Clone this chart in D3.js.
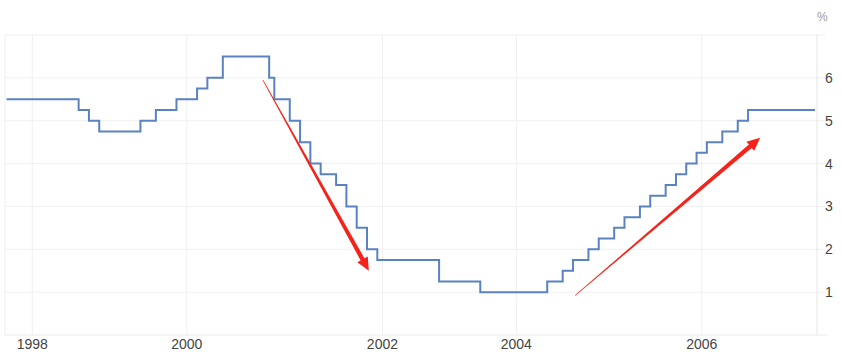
<html>
<head>
<script src="https://d3js.org/d3.v7.min.js"></script>
<style>
  body { margin: 0; background: #fff; }
  text { font-family: "Liberation Sans", Arial, sans-serif; }
</style>
</head>
<body>
<div id="chart"></div>
<script>
// rate decisions: date the new rate took effect, and the rate (%)
const changeDates = [
  "1997-08-01",
  "1998-09-29", "1998-10-15", "1998-11-17",
  "1999-06-30", "1999-08-24", "1999-11-16",
  "2000-02-02", "2000-03-21", "2000-05-16",
  "2001-01-03", "2001-01-31", "2001-03-20", "2001-04-18", "2001-05-15", "2001-06-27",
  "2001-08-21", "2001-09-17", "2001-10-02", "2001-11-06", "2001-12-11",
  "2002-11-06",
  "2003-06-25",
  "2004-06-30", "2004-08-10", "2004-09-21", "2004-11-10", "2004-12-14",
  "2005-02-02", "2005-03-22", "2005-05-03", "2005-06-30", "2005-08-09", "2005-09-20",
  "2005-11-01", "2005-12-13",
  "2006-01-31", "2006-03-28", "2006-05-10", "2006-06-29"
];
const changeRates = [
  5.5,
  5.25, 5.0, 4.75,
  5.0, 5.25, 5.5,
  5.75, 6.0, 6.5,
  6.0, 5.5, 5.0, 4.5, 4.0, 3.75,
  3.5, 3.0, 2.5, 2.0, 1.75,
  1.25,
  1.0,
  1.25, 1.5, 1.75, 2.0, 2.25,
  2.5, 2.75, 3.0, 3.25, 3.5, 3.75,
  4.0, 4.25,
  4.5, 4.75, 5.0, 5.25
];
const seriesEnd = "2007-07-01";

const yearTicks = [1998, 2000, 2002, 2004, 2006];
const rateTicks = [1, 2, 3, 4, 5, 6];

// red trend arrows [from, to]
const arrowDates = [["2000-12-25", "2001-11-15"], ["2004-09-25", "2006-08-12"]];
const arrowRates = [[5.95, 1.5], [0.92, 4.6]];

const w = 841, h = 360;
const plotLeft = 5, plotRight = 817, plotTop = 35, plotBottom = 335;

const parse = d3.timeParse("%Y-%m-%d");
const events = changeDates.map((d, i) => ({ date: parse(d), rate: changeRates[i] }));
const endDate = parse(seriesEnd);

// monthly observations plus decision dates -> the chart spaces points by observation
const months = d3.timeMonth.range(events[0].date, d3.timeMonth.offset(endDate, 1));
const allDates = Array.from(new Set(months.concat(events.map(e => e.date)).map(d => +d)))
  .sort((a, b) => a - b).map(d => new Date(d));
const rateAt = date => {
  let r = events[0].rate;
  events.forEach(e => { if (e.date <= date) r = e.rate; });
  return r;
};
const obs = allDates.map((d, i) => ({ i: i, date: d, rate: rateAt(d) }));

const xScale = d3.scaleLinear().domain([-0.3, obs.length - 1]).range([plotLeft, 815]);
const yScale = d3.scaleLinear().domain([0, 7]).range([plotBottom, plotTop]);

// fractional observation index for any date
const indexOf = date => {
  const t = +date;
  const j = d3.bisector(o => +o.date).right(obs, t) - 1;
  if (j < 0) return 0;
  if (j >= obs.length - 1) return obs.length - 1;
  const a = obs[j], b = obs[j + 1];
  return j + (t - a.date) / (b.date - a.date);
};
const xDate = d => xScale(indexOf(d));

const svg = d3.select("#chart").append("svg").attr("width", w).attr("height", h);

// grid
svg.append("g").selectAll("line").data(rateTicks.concat([7])).enter().append("line")
  .attr("x1", plotLeft).attr("x2", 825)
  .attr("y1", d => yScale(d)).attr("y2", d => yScale(d))
  .attr("stroke", "#f0f0f0").attr("stroke-width", 1);

svg.append("g").selectAll("line").data(yearTicks).enter().append("line")
  .attr("x1", d => xDate(new Date(d, 0, 1))).attr("x2", d => xDate(new Date(d, 0, 1)))
  .attr("y1", plotTop).attr("y2", plotBottom)
  .attr("stroke", "#f0f0f0").attr("stroke-width", 1);

svg.append("line").attr("x1", plotLeft).attr("x2", plotLeft).attr("y1", plotTop).attr("y2", plotBottom)
  .attr("stroke", "#eeeeee");
svg.append("line").attr("x1", plotRight).attr("x2", plotRight).attr("y1", plotTop).attr("y2", plotBottom)
  .attr("stroke", "#e6e6e6");
svg.append("line").attr("x1", plotLeft).attr("x2", 827).attr("y1", plotBottom).attr("y2", plotBottom)
  .attr("stroke", "#ebebeb");

// axes labels
svg.append("g").selectAll("text").data(yearTicks).enter().append("text")
  .attr("x", d => xDate(new Date(d, 0, 1)))
  .attr("y", 349)
  .attr("text-anchor", "middle")
  .style("font-size", "14px").style("fill", "#444")
  .text(d => d);

svg.append("g").selectAll("text").data(rateTicks).enter().append("text")
  .attr("x", 825)
  .attr("y", d => yScale(d) + 5)
  .style("font-size", "14px").style("fill", "#444")
  .text(d => d);

svg.append("text").attr("x", 817).attr("y", 21)
  .style("font-size", "12px").style("fill", "#999").text("%");

// rate line
const line = d3.line().curve(d3.curveStepAfter)
  .x(d => xScale(d.i)).y(d => yScale(d.rate));
svg.append("path").datum(obs)
  .attr("d", line)
  .attr("fill", "none")
  .attr("stroke", "#5a82c2")
  .attr("stroke-width", 2);

// tapered red arrows
arrowDates.forEach((pair, k) => {
  const x0 = xDate(parse(pair[0])), y0 = yScale(arrowRates[k][0]);
  const x1 = xDate(parse(pair[1])), y1 = yScale(arrowRates[k][1]);
  const len = Math.hypot(x1 - x0, y1 - y0);
  const ux = (x1 - x0) / len, uy = (y1 - y0) / len;
  const px = -uy, py = ux;
  const headLen = 13, headW = 6, tail = 0.3, neck = 2.2;
  const bx = x1 - ux * headLen, by = y1 - uy * headLen;
  const pts = [
    [x0 + px * tail, y0 + py * tail],
    [bx + px * neck, by + py * neck],
    [bx + px * headW, by + py * headW],
    [x1, y1],
    [bx - px * headW, by - py * headW],
    [bx - px * neck, by - py * neck],
    [x0 - px * tail, y0 - py * tail]
  ];
  svg.append("polygon")
    .attr("points", pts.map(p => p.join(",")).join(" "))
    .attr("fill", "#f5231a");
});
</script>
</body>
</html>
